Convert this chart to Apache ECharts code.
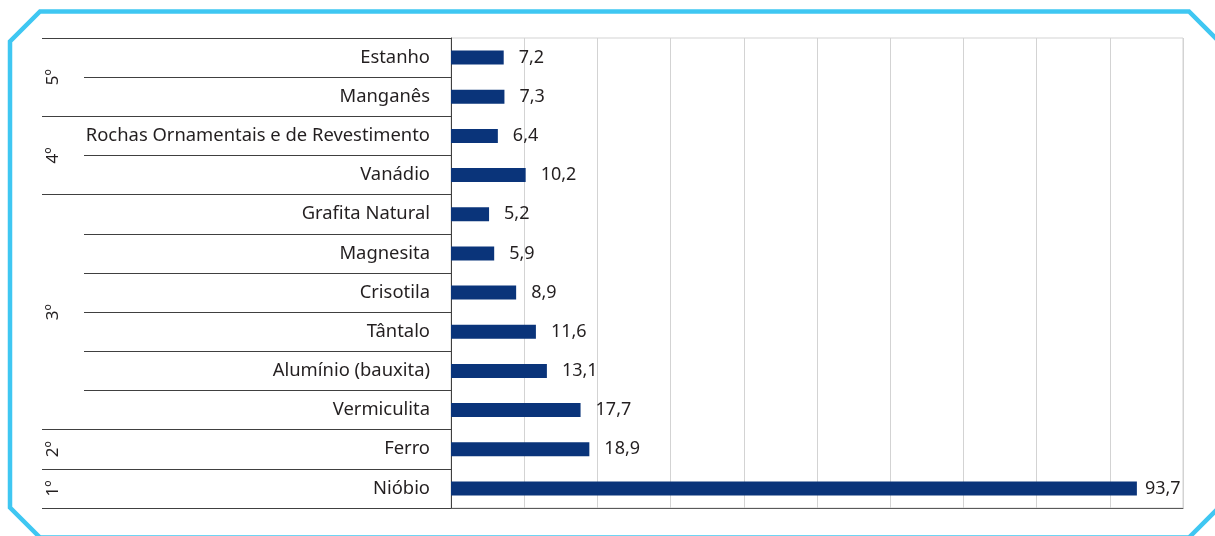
<!DOCTYPE html>
<html>
<head>
<meta charset="utf-8">
<script src="https://cdn.jsdelivr.net/npm/echarts@6/dist/echarts.min.js"></script>
<style>
  html, body { margin: 0; padding: 0; background: #fff; }
  #chart { width: 1215px; height: 536px; }
</style>
</head>
<body>
<div id="chart"></div>
<script>
// categorias de baixo para cima (o eixo de categorias começa embaixo)
const minerais = ['Nióbio', 'Ferro', 'Vermiculita', 'Alumínio (bauxita)', 'Tântalo', 'Crisotila',
  'Magnesita', 'Grafita Natural', 'Vanádio', 'Rochas Ornamentais e de Revestimento', 'Manganês', 'Estanho']
const valores = [93.7, 18.9, 17.7, 13.1, 11.6, 8.9, 5.9, 5.2, 10.2, 6.4, 7.3, 7.2]

// grupos: limites em número de linhas e posição do rótulo
const gruposLimites = [0, 1, 2, 8, 10, 12]
const gruposCentros = [0.5, 1.5, 5, 9, 11]
const gruposRotulos = ['1º', '2º', '3º', '4º', '5º']

const fonte = '"Noto Sans", sans-serif'
const corTexto = '#231f20'
const corFrame = '#3fc7f2'

const chart = echarts.init(document.getElementById('chart'))

chart.setOption({
  animation: false,
  grid: {
    left: 451,
    right: 32,
    top: 38,
    bottom: 28,
    show: true,
    borderColor: '#d3d3d3',
    borderWidth: 1
  },
  xAxis: {
    type: 'value',
    min: 0,
    max: 100,
    interval: 10,
    axisLabel: { show: false },
    axisTick: { show: false },
    axisLine: { show: true, lineStyle: { color: '#5a5a5a', width: 1 } },
    splitLine: { lineStyle: { color: '#d3d3d3', width: 1 } }
  },
  yAxis: [
    {
      type: 'category',
      data: minerais,
      axisLine: { show: true, lineStyle: { color: '#404040', width: 1 } },
      axisTick: { show: true, length: 367, lineStyle: { color: '#404040', width: 1 } },
      axisLabel: {
        margin: 21,
        color: corTexto,
        fontFamily: fonte,
        fontSize: 18.4
      }
    },
    {
      type: 'value',
      min: 0,
      max: 12,
      position: 'left',
      axisLine: { show: false },
      splitLine: { show: false },
      axisTick: {
        show: true,
        length: 409,
        customValues: gruposLimites,
        lineStyle: { color: '#404040', width: 1 }
      },
      axisLabel: {
        show: true,
        customValues: gruposCentros,
        rotate: 90,
        margin: 389,
        color: corTexto,
        fontFamily: fonte,
        fontSize: 17,
        formatter: v => gruposRotulos[gruposCentros.indexOf(v)]
      }
    }
  ],
  series: [
    {
      type: 'bar',
      yAxisIndex: 0,
      barWidth: 14,
      itemStyle: { color: '#0a347a' },
      label: {
        show: true,
        position: 'right',
        distance: 15,
        color: corTexto,
        fontFamily: fonte,
        fontSize: 18,
        formatter: p => String(p.value).replace('.', ',')
      },
      data: valores.map(v => v > 90 ? { value: v, label: { distance: 8 } } : v)
    }
  ],
  graphic: [
    {
      type: 'polygon',
      silent: true,
      shape: {
        points: [[40, 11.5], [1189, 11.5], [1232, 54.5], [1232, 494.5], [1189, 537.5], [40, 537.5], [10, 507.5], [10, 41.5]]
      },
      style: { fill: 'none', stroke: corFrame, lineWidth: 4.5 }
    }
  ]
})
</script>
</body>
</html>
